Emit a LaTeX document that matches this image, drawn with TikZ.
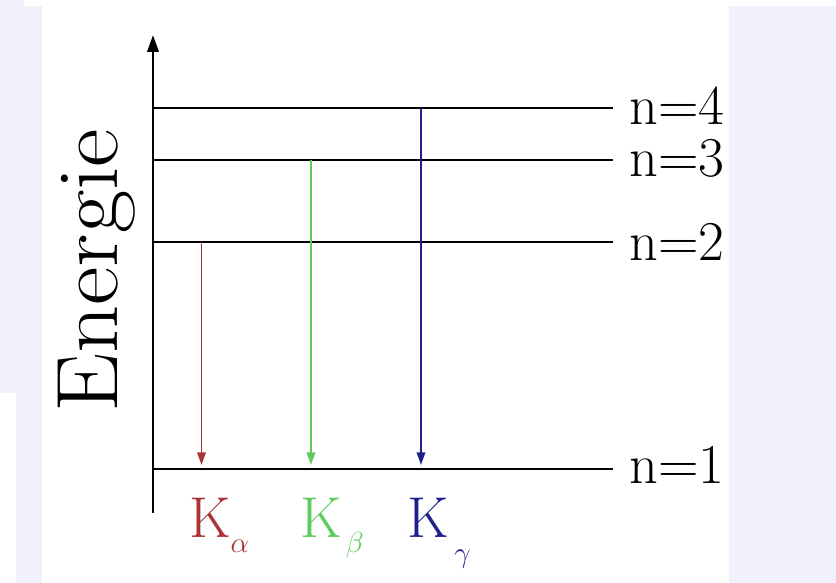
\documentclass[tikz,border=0pt]{standalone}
\usepackage{fontspec}
\usetikzlibrary{arrows.meta,positioning}
\definecolor{bgpage}{RGB}{241,241,252}
\definecolor{kalpha}{RGB}{172,52,52}
\definecolor{kbeta}{RGB}{92,204,92}
\definecolor{kgamma}{RGB}{32,32,140}
\newcommand{\ksub}[2]{\lower#1\hbox{\fontsize{21pt}{21pt}\selectfont$#2$}}

\begin{document}
\begin{tikzpicture}[x=0.025cm, y=-0.025cm,
  level/.style={line width=2pt, black},
  axis/.style={line width=2pt, -{Triangle[length=12pt,width=8pt]}},
  trans/.style={line width=1.4pt, -{Triangle[length=9pt,width=6pt]}},
  nlabel/.style={font=\fontsize{40pt}{40pt}\selectfont, inner sep=0pt},
  klabel/.style={font=\fontsize{41pt}{41pt}\selectfont, inner sep=0pt, anchor=base west}]
% page background
\useasboundingbox (0,0) rectangle (836,583);
\fill[bgpage] (0,0) rectangle (836,583);
\fill[white] (24,0) rectangle (836,6);
\fill[white] (42,6) rectangle (729,583);
\fill[white] (0,393) rectangle (16,583);
% energy axis
\coordinate (ax0) at (153,513);
\coordinate (ax1) at (153,35);
\draw[axis] (ax0) -- (ax1);
\node[font=\fontsize{62pt}{62pt}\selectfont, rotate=90, anchor=base west, inner sep=0pt] (energy) at (117,413) {\scalebox{1.08}[1]{Energie}};
% levels
\foreach \n/\y/\dy in {1/469/-3pt,2/242/0pt,3/160/-1.5pt,4/108/-1.5pt}{
  \coordinate (w\n) at (153,\y);
  \coordinate (e\n) at (613,\y);
  \draw[level] (w\n) -- (e\n);
  \node[nlabel, right=0.4cm of e\n, yshift=-\dy] (lab\n) {n=\n};
}
% transitions
\coordinate (a2) at (201.5,242);
\coordinate (a1) at (201.5,465);
\coordinate (b3) at (311,160);
\coordinate (b1) at (311,465);
\coordinate (g4) at (421,108);
\coordinate (g1) at (421,465);
\draw[trans, kalpha] (a2) -- (a1);
\draw[trans, kbeta] (b3) -- (b1);
\draw[trans, kgamma] (g4) -- (g1);
\node[klabel, text=kalpha] (ka) at (189,537) {K\ksub{11pt}{\alpha}};
\node[klabel, text=kbeta] (kb) at (300,537) {K\kern3pt\ksub{11pt}{\beta}};
\node[klabel, text=kgamma] (kg) at (407,537) {K\kern4pt\ksub{18pt}{\gamma}};
\end{tikzpicture}
\end{document}
